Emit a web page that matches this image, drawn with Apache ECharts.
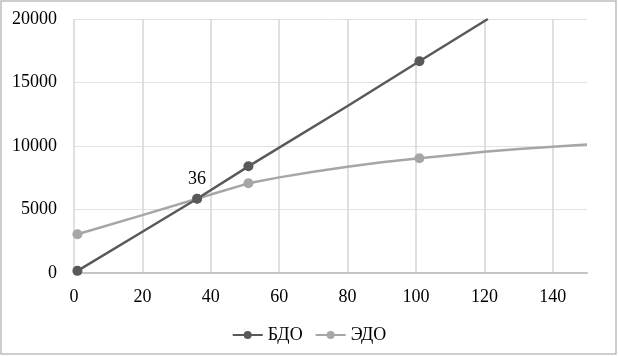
<!DOCTYPE html>
<html>
<head>
<meta charset="utf-8">
<script src="https://cdn.jsdelivr.net/npm/echarts@6/dist/echarts.min.js"></script>
<style>
  html, body { margin: 0; padding: 0; background: #fff; }
  #chart { width: 618px; height: 356px; }
</style>
</head>
<body>
<div id="chart"></div>
<script>
// БДО: x, value, marker shown
const bdoX = [1, 20, 36, 51, 80, 101, 121];
const bdoY = [170, 3250, 5850, 8400, 13150, 16670, 20000];
const bdoMark = [1, 0, 1, 1, 0, 1, 0];

// ЭДО
const edoX = [1, 20, 36, 40, 51, 60, 70, 80, 90, 101, 110, 120, 130, 140, 150];
const edoY = [3050, 4560, 5850, 6180, 7060, 7530, 7980, 8370, 8720, 9030, 9280, 9550, 9760, 9950, 10120];
const edoMark = [1, 0, 1, 0, 1, 0, 0, 0, 0, 1, 0, 0, 0, 0, 0];

const labelX = 36; // подпись точки пересечения

const font = "'Liberation Serif', 'DejaVu Serif', serif";

function build(xs, ys, marks, withLabel) {
  return xs.map((x, i) => {
    let item = { value: [x, ys[i]] };
    if (!marks[i]) item.symbol = "none";
    if (withLabel && x === labelX) {
      item.label = {
        show: true,
        position: "top",
        distance: 5,
        formatter: String(labelX),
        color: "#000",
        fontFamily: font,
        fontSize: 18
      };
    }
    return item;
  });
}

let option = {
  animation: false,
  graphic: [
    {
      type: "rect",
      shape: { x: 1, y: 1, width: 615, height: 353 },
      style: { fill: "none", stroke: "#bdbdbd", lineWidth: 1.5 },
      silent: true
    }
  ],
  grid: {
    left: 74,
    right: 31,
    top: 19,
    bottom: 83
  },
  legend: {
    top: 321,
    left: "center",
    itemWidth: 30,
    itemHeight: 10,
    itemGap: 12,
    textStyle: {
      color: "#000",
      fontFamily: font,
      fontSize: 18
    },
    data: ["БДО", "ЭДО"]
  },
  xAxis: {
    type: "value",
    min: 0,
    max: 150,
    interval: 20,
    axisLine: { lineStyle: { color: "#c4c4c4", width: 2 } },
    axisTick: { show: false },
    axisLabel: {
      color: "#000",
      fontFamily: font,
      fontSize: 18,
      margin: 15,
      showMaxLabel: false
    },
    splitLine: {
      show: true,
      showMaxLine: false,
      lineStyle: { color: "#d6d6d6", width: 1.5 }
    }
  },
  yAxis: {
    type: "value",
    min: 0,
    max: 20000,
    interval: 5000,
    axisLine: { show: false },
    axisTick: { show: false },
    axisLabel: {
      color: "#000",
      fontFamily: font,
      fontSize: 18,
      margin: 17,
      formatter: (v) => String(v)
    },
    splitLine: { lineStyle: { color: "#e2e2e2", width: 1 } }
  },
  series: [
    {
      name: "БДО",
      type: "line",
      symbol: "circle",
      symbolSize: 10,
      z: 3,
      lineStyle: { color: "#595959", width: 2.5 },
      itemStyle: { color: "#595959" },
      data: build(bdoX, bdoY, bdoMark, false)
    },
    {
      name: "ЭДО",
      type: "line",
      symbol: "circle",
      symbolSize: 10,
      z: 2,
      lineStyle: { color: "#a6a6a6", width: 2.5 },
      itemStyle: { color: "#a6a6a6" },
      data: build(edoX, edoY, edoMark, true)
    }
  ]
};

let myChart = echarts.init(document.getElementById("chart"));
myChart.setOption(option);
</script>
</body>
</html>
